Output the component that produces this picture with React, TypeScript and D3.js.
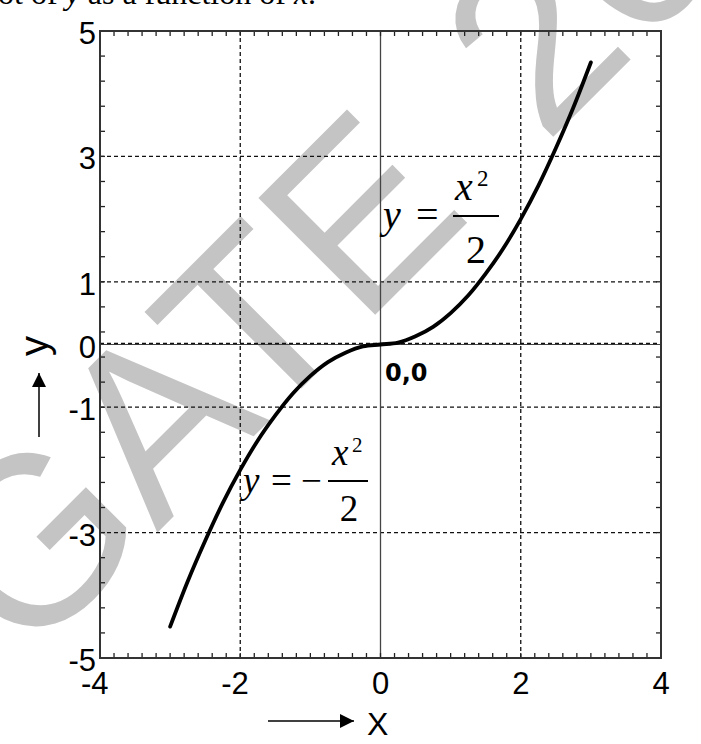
import * as React from "react"
import * as d3 from "d3"

const curveX = [-3, -2.75, -2.5, -2.25, -2, -1.75, -1.5, -1.25, -1, -0.75, -0.5, -0.25, 0, 0.25, 0.5, 0.75, 1, 1.25, 1.5, 1.75, 2, 2.25, 2.5, 2.75, 3]
const curveY = [-4.5, -3.78, -3.13, -2.53, -2, -1.53, -1.13, -0.78, -0.5, -0.28, -0.13, -0.03, 0, 0.03, 0.13, 0.28, 0.5, 0.78, 1.13, 1.53, 2, 2.53, 3.13, 3.78, 4.5]

const xTicks = [-4, -2, 0, 2, 4]
const xTickLabels = ["-4", "-2", "0", "2", "4"]
const yTicks = [-5, -3, -1, 0, 1, 3, 5]
const yTickLabels = ["-5", "-3", "-1", "0", "1", "3", "5"]
const xGrid = [-2, 2]
const yGrid = [-3, -1, 1, 3]

const W = 701
const H = 744
const SANS = "'Liberation Sans', Arial, sans-serif"
const SERIF = "'Liberation Serif', 'Times New Roman', serif"

export default function App() {
  const x = d3.scaleLinear().domain([-4, 4]).range([100, 661])
  const y = d3.scaleLinear().domain([-5, 5]).range([658, 31])

  const xMinor = d3.range(0, 41).map((k) => -4 + k * 0.2)
  const yMinor = d3.range(0, 26).map((k) => -5 + k * 0.4)

  const pts = curveX.map((v, i) => [v, curveY[i]] as [number, number])
  const line = d3
    .line<[number, number]>()
    .x((d) => x(d[0]))
    .y((d) => y(d[1]))
    .curve(d3.curveMonotoneX)

  const [x0, x1] = x.range()
  const [y0, y1] = y.range()
  const tick = 5

  return (
    <svg
      width={W}
      height={H}
      viewBox={`0 0 ${W} ${H}`}
      style={{ position: "absolute", left: 0, top: 0, background: "#fff" }}
    >
      {/* watermark */}
      <g transform="translate(25,665) rotate(-45)" fontFamily={SANS} fontSize={240} fill="#c4c4c4">
        <text x={0} y={0}>GATE</text>
        <text x={735} y={0}>2019</text>
      </g>

      {/* text line cut off at the top */}
      <text x={-2} y={4} fontFamily={SERIF} fontSize={32} fill="#000">
        ot of <tspan fontStyle="italic">y</tspan> as a function of <tspan fontStyle="italic">x</tspan>.
      </text>

      {/* grid */}
      {xGrid.map((v) => (
        <line key={"gx" + v} x1={x(v)} x2={x(v)} y1={y1} y2={y0} stroke="#111" strokeWidth={1.3} strokeDasharray="4,3" />
      ))}
      {yGrid.map((v) => (
        <line key={"gy" + v} x1={x0} x2={x1} y1={y(v)} y2={y(v)} stroke="#111" strokeWidth={1.3} strokeDasharray="4,3" />
      ))}
      <line x1={x(0)} x2={x(0)} y1={y1} y2={y0} stroke="#444" strokeWidth={1.3} />
      <line x1={x0} x2={x1} y1={y(0)} y2={y(0)} stroke="#444" strokeWidth={1.2} />
      <line x1={x0} x2={x1} y1={y(0) - 1} y2={y(0) - 1} stroke="#111" strokeWidth={1.3} strokeDasharray="4,3" />

      {/* minor ticks, inward on all sides */}
      {xMinor.map((v, i) => (
        <g key={"tx" + i} stroke="#222" strokeWidth={1.3}>
          <line x1={x(v)} x2={x(v)} y1={y0} y2={y0 - tick} />
          <line x1={x(v)} x2={x(v)} y1={y1} y2={y1 + tick} />
        </g>
      ))}
      {yMinor.map((v, i) => (
        <g key={"ty" + i} stroke="#222" strokeWidth={1.3}>
          <line x1={x0} x2={x0 + tick} y1={y(v)} y2={y(v)} />
          <line x1={x1} x2={x1 - tick} y1={y(v)} y2={y(v)} />
        </g>
      ))}

      {/* frame */}
      <rect x={x0} y={y1} width={x1 - x0} height={y0 - y1} fill="none" stroke="#333" strokeWidth={2} />

      {/* curve */}
      <path d={line(pts) || ""} fill="none" stroke="#000" strokeWidth={3.8} strokeLinecap="round" />

      {/* tick labels */}
      {xTicks.map((v, i) => (
        <text
          key={"lx" + v}
          x={x(v)}
          y={y0 + 36}
          dx={v < 0 ? "-0.167em" : 0}
          textAnchor="middle"
          fontFamily={SANS}
          fontSize={31}
          fill="#000"
        >
          {xTickLabels[i]}
        </text>
      ))}
      {yTicks.map((v, i) => (
        <text
          key={"ly" + v}
          x={96}
          y={y(v) + 13}
          textAnchor="end"
          fontFamily={SANS}
          fontSize={31}
          fill="#000"
        >
          {yTickLabels[i]}
        </text>
      ))}

      {/* origin label */}
      <text x={385} y={381} fontFamily="'DejaVu Sans', Verdana, sans-serif" fontWeight="bold" fontSize={24} fill="#000">
        0,0
      </text>

      {/* axis titles with arrows */}
      <defs>
        <marker id="ah" viewBox="0 0 10 10" refX={10} refY={5} markerWidth={14} markerHeight={14} markerUnits="userSpaceOnUse" orient="auto">
          <path d="M0,0 L10,5 L0,10 z" fill="#000" />
        </marker>
      </defs>
      <line x1={268} x2={354} y1={721} y2={721} stroke="#000" strokeWidth={1.5} markerEnd="url(#ah)" />
      <text x={367} y={735} fontFamily={SANS} fontSize={32} fill="#000">X</text>
      <line x1={39} x2={39} y1={437} y2={373} stroke="#000" strokeWidth={1.5} markerEnd="url(#ah)" />
      <text transform="translate(48,346) rotate(-90)" textAnchor="middle" fontFamily={SANS} fontSize={40} fill="#000">
        y
      </text>

      {/* y = x^2/2 */}
      <g fontFamily={SERIF} fill="#000">
        <text x={383} y={228} fontSize={40} fontStyle="italic">y</text>
        <text x={416} y={228} fontSize={40}>=</text>
        <line x1={453} x2={499} y1={216} y2={216} stroke="#000" strokeWidth={2} />
        <text x={455} y={200} fontSize={40} fontStyle="italic">x</text>
        <text x={477} y={186} fontSize={23}>2</text>
        <text x={476} y={263} fontSize={40} textAnchor="middle">2</text>
      </g>

      {/* y = -x^2/2 */}
      <g fontFamily={SERIF} fill="#000">
        <text x={243} y={493} fontSize={37} fontStyle="italic">y</text>
        <text x={271} y={493} fontSize={37}>=</text>
        <text x={301} y={493} fontSize={37}>−</text>
        <line x1={328} x2={368} y1={481} y2={481} stroke="#000" strokeWidth={1.8} />
        <text x={332} y={465} fontSize={37} fontStyle="italic">x</text>
        <text x={352} y={452} fontSize={21}>2</text>
        <text x={349} y={521} fontSize={37} textAnchor="middle">2</text>
      </g>
    </svg>
  )
}
